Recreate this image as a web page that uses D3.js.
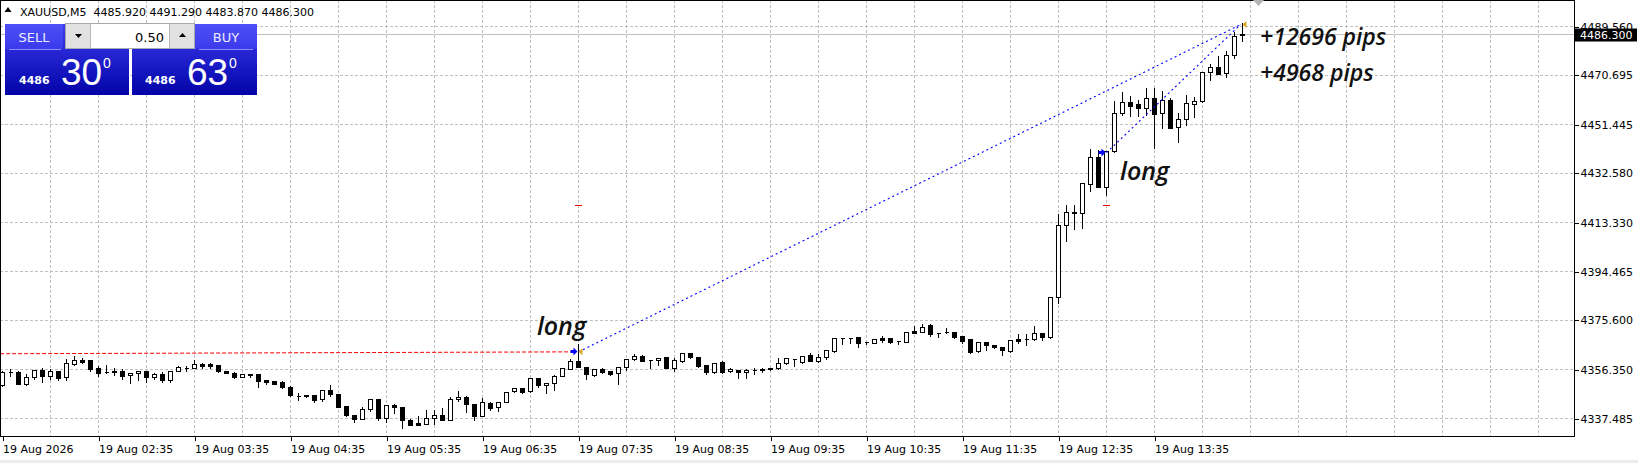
<!DOCTYPE html>
<html>
<head>
<meta charset="utf-8">
<script src="https://cdn.jsdelivr.net/npm/d3@7"></script>
<style>
  html, body { margin: 0; padding: 0; background: #fff; overflow: hidden; }
  svg { display: block; }
</style>
</head>
<body>
<div id="chart"></div>
<script>
const symbolName = 'XAUUSD,M5';
const headerPrices = ['4485.920', '4491.290', '4483.870', '4486.300'];
const timeLabels = ['19 Aug 2026', '19 Aug 02:35', '19 Aug 03:35', '19 Aug 04:35', '19 Aug 05:35', '19 Aug 06:35',
  '19 Aug 07:35', '19 Aug 08:35', '19 Aug 09:35', '19 Aug 10:35', '19 Aug 11:35', '19 Aug 12:35', '19 Aug 13:35'];
const priceTicks = [4337.485, 4356.350, 4375.600, 4394.465, 4413.330, 4432.580, 4451.445, 4470.695, 4489.560];

// one M5 bar per entry, first bar = 01:35
const opens = [
  4350.2, 4355.4, 4355.2, 4350.8, 4353.2, 4356.3, 4353.7, 4355.7, 4353.4, 4358.6,
  4360.0, 4360.0, 4356.8, 4355.3, 4355.8, 4355.7, 4354.0, 4354.9, 4355.7, 4353.5,
  4354.5, 4352.1, 4355.6, 4356.8, 4356.8, 4358.4, 4358.5, 4358.0, 4355.8, 4355.0,
  4353.4, 4354.4, 4354.5, 4352.1, 4351.8, 4351.5, 4349.7, 4346.2, 4346.6, 4346.5,
  4344.7, 4348.4, 4346.8, 4342.1, 4338.7, 4337.0, 4340.9, 4344.9, 4337.6, 4342.5,
  4341.6, 4336.6, 4335.5, 4335.3, 4337.4, 4338.5, 4336.7, 4344.9, 4345.7, 4342.9,
  4338.2, 4343.3, 4341.6, 4343.8, 4347.9, 4349.0, 4347.9, 4352.9, 4350.1, 4350.9,
  4353.9, 4356.5, 4359.6, 4357.4, 4354.2, 4356.4, 4355.7, 4354.8, 4357.1, 4360.5,
  4361.5, 4360.0, 4359.9, 4361.0, 4356.8, 4359.6, 4362.6, 4361.3, 4358.0, 4355.5,
  4359.3, 4355.6, 4356.1, 4355.2, 4356.3, 4356.4, 4356.6, 4356.7, 4358.7, 4360.3,
  4359.3, 4361.9, 4359.7, 4361.3, 4363.6, 4368.4, 4368.6, 4368.8, 4366.9, 4366.7,
  4368.4, 4368.4, 4367.3, 4367.1, 4371.2, 4371.0, 4373.6, 4370.6, 4370.7, 4370.7,
  4369.3, 4368.0, 4363.5, 4367.1, 4365.8, 4364.9, 4363.6, 4368.3, 4368.0, 4368.0,
  4370.3, 4369.0, 4384.3, 4412.5, 4417.2, 4416.9, 4428.3, 4438.6, 4427.2, 4441.2,
  4455.9, 4459.9, 4459.2, 4457.9, 4461.5, 4455.7, 4460.9, 4450.2, 4453.3, 4459.2,
  4460.3, 4471.6, 4473.5, 4471.5, 4478.2, 4485.92
];
const highs = [
  4356.0, 4356.7, 4356.1, 4354.8, 4356.4, 4357.4, 4356.7, 4356.1, 4360.7, 4362.0,
  4361.1, 4360.3, 4358.1, 4358.4, 4357.4, 4356.7, 4354.9, 4356.1, 4356.1, 4355.4,
  4355.8, 4356.1, 4358.1, 4358.1, 4360.3, 4359.1, 4359.1, 4358.3, 4356.3, 4355.7,
  4354.8, 4355.0, 4354.8, 4352.8, 4351.8, 4352.1, 4350.2, 4347.5, 4346.6, 4346.5,
  4348.8, 4350.5, 4347.1, 4342.4, 4339.2, 4342.2, 4345.1, 4345.1, 4342.5, 4343.3,
  4341.6, 4337.6, 4338.5, 4340.9, 4340.8, 4341.6, 4346.2, 4348.2, 4346.5, 4343.2,
  4345.5, 4343.9, 4343.8, 4347.7, 4349.6, 4349.6, 4353.3, 4353.3, 4351.2, 4354.4,
  4357.1, 4360.9, 4366.7, 4357.6, 4357.0, 4357.1, 4356.1, 4357.6, 4360.9, 4362.8,
  4362.3, 4360.3, 4360.9, 4361.3, 4361.3, 4363.2, 4363.2, 4361.7, 4358.3, 4359.3,
  4360.0, 4357.1, 4356.4, 4356.7, 4357.1, 4357.4, 4356.9, 4361.0, 4360.9, 4360.6,
  4361.9, 4363.2, 4362.8, 4364.1, 4368.8, 4368.6, 4369.0, 4369.0, 4367.3, 4368.3,
  4369.5, 4368.8, 4367.7, 4371.0, 4373.6, 4374.2, 4374.2, 4371.0, 4372.9, 4371.4,
  4369.7, 4368.4, 4367.3, 4367.3, 4366.1, 4365.2, 4368.0, 4370.3, 4370.3, 4373.6,
  4371.0, 4384.8, 4416.9, 4420.5, 4420.5, 4428.8, 4442.1, 4441.7, 4441.5, 4460.9,
  4464.3, 4462.8, 4461.2, 4466.0, 4465.8, 4464.7, 4462.1, 4456.3, 4463.0, 4462.4,
  4472.0, 4475.1, 4478.3, 4480.3, 4487.6, 4491.29
];
const lows = [
  4349.8, 4353.7, 4350.8, 4350.4, 4352.8, 4351.5, 4352.8, 4352.4, 4352.1, 4358.1,
  4359.0, 4355.7, 4353.8, 4354.8, 4354.1, 4352.8, 4351.1, 4352.1, 4351.5, 4352.8,
  4351.5, 4351.5, 4355.6, 4355.8, 4356.7, 4357.0, 4356.8, 4355.3, 4354.8, 4353.0,
  4353.2, 4353.2, 4349.5, 4350.8, 4350.5, 4349.2, 4346.2, 4344.6, 4345.5, 4343.6,
  4344.2, 4345.9, 4341.8, 4338.3, 4336.0, 4337.0, 4340.3, 4336.6, 4336.0, 4339.6,
  4333.7, 4334.6, 4334.6, 4335.0, 4335.0, 4336.7, 4336.6, 4344.2, 4339.9, 4336.6,
  4338.2, 4340.5, 4340.3, 4343.8, 4347.7, 4347.3, 4347.7, 4349.6, 4347.3, 4348.3,
  4353.9, 4356.5, 4357.1, 4352.6, 4353.9, 4354.8, 4354.2, 4350.7, 4356.1, 4360.0,
  4359.7, 4356.8, 4358.0, 4356.8, 4355.8, 4359.3, 4360.6, 4357.4, 4354.5, 4354.8,
  4354.8, 4355.3, 4353.1, 4353.1, 4354.5, 4355.4, 4356.1, 4356.4, 4358.3, 4357.8,
  4358.9, 4359.7, 4359.3, 4360.4, 4363.2, 4366.2, 4366.4, 4365.2, 4366.2, 4366.4,
  4366.9, 4366.7, 4366.1, 4367.1, 4370.3, 4370.7, 4369.4, 4368.8, 4370.3, 4368.4,
  4366.4, 4362.8, 4363.2, 4363.9, 4364.5, 4362.0, 4363.2, 4366.5, 4365.8, 4367.7,
  4367.7, 4368.4, 4382.2, 4406.3, 4410.7, 4411.1, 4425.7, 4427.0, 4424.0, 4440.8,
  4455.2, 4454.8, 4454.8, 4455.0, 4442.1, 4449.9, 4449.9, 4444.7, 4451.2, 4454.4,
  4460.0, 4468.6, 4471.0, 4469.9, 4477.0, 4483.87
];
const closes = [
  4355.4, 4355.4, 4350.8, 4353.2, 4356.3, 4353.7, 4355.7, 4353.0, 4358.7, 4359.9,
  4359.3, 4356.5, 4355.0, 4355.2, 4355.3, 4353.8, 4354.8, 4355.7, 4353.5, 4354.5,
  4352.1, 4355.7, 4357.3, 4356.9, 4358.5, 4357.8, 4357.7, 4355.6, 4354.9, 4353.4,
  4354.5, 4354.3, 4351.9, 4351.6, 4350.8, 4349.5, 4346.5, 4346.1, 4345.9, 4344.5,
  4348.4, 4346.8, 4341.8, 4338.5, 4337.0, 4340.9, 4344.9, 4337.6, 4342.5, 4341.6,
  4336.6, 4334.9, 4334.9, 4337.4, 4338.5, 4336.7, 4344.9, 4345.7, 4342.9, 4338.2,
  4343.8, 4341.2, 4343.8, 4347.6, 4349.2, 4347.7, 4352.9, 4350.3, 4350.9, 4353.9,
  4356.8, 4359.6, 4357.4, 4354.5, 4356.5, 4355.2, 4354.5, 4357.1, 4360.5, 4361.5,
  4359.7, 4360.0, 4360.9, 4356.8, 4360.0, 4362.6, 4361.3, 4357.7, 4355.5, 4358.9,
  4355.5, 4356.5, 4355.2, 4356.1, 4356.2, 4356.3, 4356.7, 4358.7, 4360.6, 4360.4,
  4361.7, 4359.7, 4361.3, 4363.9, 4368.4, 4368.4, 4368.7, 4366.7, 4366.9, 4368.0,
  4367.7, 4367.1, 4367.2, 4370.7, 4370.6, 4372.9, 4370.1, 4370.5, 4370.8, 4369.0,
  4367.5, 4363.2, 4367.1, 4365.8, 4364.9, 4363.8, 4367.7, 4367.5, 4368.1, 4370.3,
  4369.0, 4384.3, 4412.2, 4417.3, 4417.3, 4428.5, 4438.6, 4427.2, 4441.2, 4455.7,
  4459.9, 4458.6, 4457.9, 4461.5, 4455.6, 4460.9, 4449.9, 4453.3, 4459.6, 4460.5,
  4471.7, 4473.5, 4471.1, 4478.3, 4485.7, 4486.30
];

const bidPrice = 4486.300;
const askPrice = 4486.630;
const lotSize = '0.50';

// closed buy trades: entry bar / price, shared close
const entryBars = [72, 138];
const entryPrices = [4363.34, 4440.62];
const exitBar = 155;
const exitPrice = 4490.30;
const stopPrices = [4420.10, 4420.10];
// earlier sell closed at the first entry (starts left of the window)
const sellLineBars = [-0.3, 72];
const sellLinePrices = [4362.6, 4363.34];

// text objects anchored by bar / price
const noteTexts = ['long', 'long'];
const noteBars = [66.8, 139.7];
const notePrices = [4369.9, 4430.0];
const pipsTexts = ['+12696 pips', '+4968 pips'];
const pipsBars = [157.2, 157.2];
const pipsPrices = [4482.4, 4468.4];

class CandleChart {
  constructor(container) {
    this.width = 1638;
    this.height = 463;
    this.plotRight = 1574;
    this.plotBottom = 437;
    this.svg = container.append('svg')
      .attr('width', this.width)
      .attr('height', this.height);

    this.x = d3.scaleLinear().domain([0, 155]).range([2.5, 1242.5]);
    this.y = d3.scaleLinear().domain([4337.485, 4489.56]).range([418.5, 26.5]);

    this.bars = opens.map((o, i) => ({ i: i, o: o, h: highs[i], l: lows[i], c: closes[i] }));
  }

  px(v) {
    return Math.round(v - 0.5) + 0.5;
  }

  drawGrid() {
    let g = this.svg.append('g').attr('shape-rendering', 'crispEdges');
    let gridBars = d3.range(6, 200, 6).filter(b => this.x(b) < this.plotRight);

    g.selectAll('line.v').data(gridBars).join('line')
      .attr('x1', d => this.px(this.x(d))).attr('x2', d => this.px(this.x(d)))
      .attr('y1', 0).attr('y2', this.plotBottom)
      .attr('stroke', '#c0c0c0').attr('stroke-dasharray', '3,2');

    g.selectAll('line.h').data(priceTicks).join('line')
      .attr('x1', 0).attr('x2', this.plotRight)
      .attr('y1', d => this.px(this.y(d))).attr('y2', d => this.px(this.y(d)))
      .attr('stroke', '#c0c0c0').attr('stroke-dasharray', '3,2');

    // bid line
    g.append('line')
      .attr('x1', 0).attr('x2', this.plotRight)
      .attr('y1', this.px(this.y(bidPrice))).attr('y2', this.px(this.y(bidPrice)))
      .attr('stroke', '#c0c0c0');
  }

  drawAxes() {
    let yAxis = d3.axisRight(this.y)
      .tickValues(priceTicks)
      .tickFormat(d3.format('.3f'))
      .tickSize(4)
      .tickPadding(2);
    let ya = this.svg.append('g')
      .attr('transform', `translate(${this.plotRight + 0.5},0)`)
      .call(yAxis);

    let xAxis = d3.axisBottom(this.x)
      .tickValues(d3.range(0, 156, 12))
      .tickFormat((d, i) => timeLabels[i])
      .tickSize(4)
      .tickPadding(5);
    let xa = this.svg.append('g')
      .attr('transform', `translate(0,${this.plotBottom - 0.5})`)
      .call(xAxis);
    xa.selectAll('text').attr('text-anchor', 'start');

    [ya, xa].forEach(a => {
      a.select('.domain').remove();
      a.attr('font-family', '"DejaVu Sans", sans-serif').attr('font-size', 11);
      a.selectAll('text').attr('fill', '#000');
      a.selectAll('line').attr('stroke', '#000').attr('shape-rendering', 'crispEdges');
    });

    // frame
    this.svg.append('path')
      .attr('d', `M0.5,${this.plotBottom - 0.5} V0.5 H${this.plotRight + 0.5} V${this.plotBottom - 0.5} Z`)
      .attr('fill', 'none').attr('stroke', '#000').attr('shape-rendering', 'crispEdges');

    // current bid label (covers the top tick label, as in the terminal)
    let by = this.px(this.y(bidPrice));
    this.svg.append('rect')
      .attr('x', this.plotRight + 1).attr('y', by - 6)
      .attr('width', 62).attr('height', 13)
      .attr('fill', '#000');
    this.svg.append('text')
      .attr('x', this.plotRight + 6).attr('y', by + 4.5)
      .attr('font-family', '"DejaVu Sans", sans-serif').attr('font-size', 11)
      .attr('fill', '#fff')
      .text(d3.format('.3f')(bidPrice));

    // chart shift marker
    this.svg.append('path')
      .attr('d', 'M1253,0 L1264,0 L1258.5,6 Z')
      .attr('fill', '#b4b4b4');

    // window bottom edge
    this.svg.append('rect')
      .attr('x', 0).attr('y', 460).attr('width', this.width).attr('height', 3)
      .attr('fill', '#ececec');
  }

  drawCandles() {
    let g = this.svg.append('g').attr('shape-rendering', 'crispEdges');
    g.selectAll('line').data(this.bars).join('line')
      .attr('x1', d => this.px(this.x(d.i))).attr('x2', d => this.px(this.x(d.i)))
      .attr('y1', d => this.px(this.y(d.h))).attr('y2', d => this.px(this.y(d.l)))
      .attr('stroke', '#000');

    g.selectAll('path').data(this.bars).join('path')
      .attr('d', d => {
        let cx = this.px(this.x(d.i));
        let top = this.px(this.y(Math.max(d.o, d.c)));
        let bot = this.px(this.y(Math.min(d.o, d.c)));
        return `M${cx - 2},${top} H${cx + 2} V${bot} H${cx - 2} Z`;
      })
      .attr('fill', d => d.c >= d.o ? '#fff' : '#000')
      .attr('stroke', '#000');
  }

  drawTrades() {
    let g = this.svg.append('g');

    g.append('line')
      .attr('x1', this.x(sellLineBars[0])).attr('y1', this.y(sellLinePrices[0]))
      .attr('x2', this.x(sellLineBars[1]) - 4).attr('y2', this.y(sellLinePrices[1]))
      .attr('stroke', '#ff0000').attr('stroke-dasharray', '4,2');

    g.selectAll('line.trade').data(entryBars).join('line')
      .attr('x1', (d, i) => this.x(d)).attr('y1', (d, i) => this.y(entryPrices[i]))
      .attr('x2', this.x(exitBar) - 2).attr('y2', this.y(exitPrice))
      .attr('stroke', '#0000ff').attr('stroke-width', 1.1).attr('stroke-dasharray', '2,3');

    // stop loss marks
    g.selectAll('line.sl').data(entryBars).join('line')
      .attr('x1', d => this.px(this.x(d)) - 3.5).attr('x2', d => this.px(this.x(d)) + 3.5)
      .attr('y1', (d, i) => this.px(this.y(stopPrices[i]))).attr('y2', (d, i) => this.px(this.y(stopPrices[i])))
      .attr('stroke', '#ff0000').attr('shape-rendering', 'crispEdges');

    // buy arrows
    g.selectAll('path.buy').data(entryBars).join('path')
      .attr('d', (d, i) => {
        let cx = this.px(this.x(d)) - 1;
        let cy = this.px(this.y(entryPrices[i]));
        return `M${cx - 7},${cy - 1.5} H${cx - 4} V${cy - 4} L${cx},${cy} L${cx - 4},${cy + 4} V${cy + 1.5} H${cx - 7} Z`;
      })
      .attr('fill', '#0000ff');

    // close markers
    let closeMarks = [{ b: entryBars[0], p: entryPrices[0] }, { b: exitBar, p: exitPrice }];
    g.selectAll('path.close').data(closeMarks).join('path')
      .attr('d', d => {
        let cx = this.px(this.x(d.b));
        let cy = this.y(d.p);
        return `M${cx},${cy} L${cx + 4},${cy - 3.5} L${cx + 4},${cy + 3.5} Z`;
      })
      .attr('fill', '#daa520');
  }

  drawNotes() {
    let g = this.svg.append('g')
      .attr('font-family', '"Open Sans", sans-serif')
      .attr('font-style', 'italic')
      .attr('fill', '#111');

    g.selectAll('text.note').data(noteTexts).join('text')
      .attr('x', (d, i) => this.x(noteBars[i]))
      .attr('y', (d, i) => this.y(notePrices[i]))
      .attr('font-size', 25)
      .attr('font-weight', 600)
      .text(d => d);

    g.selectAll('text.pips').data(pipsTexts).join('text')
      .attr('x', (d, i) => this.x(pipsBars[i]))
      .attr('y', (d, i) => this.y(pipsPrices[i]))
      .attr('font-size', 23)
      .attr('font-weight', 600)
      .text(d => d);
  }

  drawHeader() {
    let g = this.svg.append('g')
      .attr('font-family', '"DejaVu Sans", sans-serif')
      .attr('font-size', 11)
      .attr('fill', '#000');
    g.append('path').attr('d', 'M4.5,12 L8,7 L11.5,12 Z').attr('fill', '#000');
    g.append('text')
      .attr('x', 20).attr('y', 16)
      .attr('xml:space', 'preserve')
      .text(symbolName + '  ' + headerPrices.join(' '));
  }

  drawPanel() {
    let defs = this.svg.append('defs');
    let big = defs.append('linearGradient').attr('id', 'bigBox').attr('x1', 0).attr('x2', 0).attr('y1', 0).attr('y2', 1);
    big.append('stop').attr('offset', 0).attr('stop-color', '#3c3cf0');
    big.append('stop').attr('offset', 1).attr('stop-color', '#0303a8');
    let btn = defs.append('linearGradient').attr('id', 'btnBox').attr('x1', 0).attr('x2', 0).attr('y1', 0).attr('y2', 1);
    btn.append('stop').attr('offset', 0).attr('stop-color', '#5050f6');
    btn.append('stop').attr('offset', 1).attr('stop-color', '#3a3aec');

    let g = this.svg.append('g').attr('shape-rendering', 'crispEdges');

    // price boxes
    g.append('rect').attr('x', 5).attr('y', 24).attr('width', 124).attr('height', 71).attr('fill', 'url(#bigBox)');
    g.append('rect').attr('x', 132).attr('y', 24).attr('width', 125).attr('height', 71).attr('fill', 'url(#bigBox)');
    g.append('rect').attr('x', 5).attr('y', 24).attr('width', 58).attr('height', 25).attr('fill', 'url(#btnBox)');
    g.append('rect').attr('x', 195).attr('y', 24).attr('width', 62).attr('height', 25).attr('fill', 'url(#btnBox)');
    g.append('line').attr('x1', 9).attr('x2', 61).attr('y1', 49.5).attr('y2', 49.5).attr('stroke', '#8c8cff');
    g.append('line').attr('x1', 199).attr('x2', 253).attr('y1', 49.5).attr('y2', 49.5).attr('stroke', '#8c8cff');

    // lot control
    g.append('rect').attr('x', 65.5).attr('y', 23.5).attr('width', 129).attr('height', 25)
      .attr('fill', '#fff').attr('stroke', '#a8a8a8');
    g.append('rect').attr('x', 66).attr('y', 24).attr('width', 24).attr('height', 24).attr('fill', '#e1e1e1');
    g.append('rect').attr('x', 170).attr('y', 24).attr('width', 24).attr('height', 24).attr('fill', '#e1e1e1');
    g.append('line').attr('x1', 90.5).attr('x2', 90.5).attr('y1', 24).attr('y2', 48).attr('stroke', '#b8b8b8');
    g.append('line').attr('x1', 169.5).attr('x2', 169.5).attr('y1', 24).attr('y2', 48).attr('stroke', '#b8b8b8');
    g.append('path').attr('d', 'M75,34 L82,34 L78.5,38 Z').attr('fill', '#000').attr('shape-rendering', 'auto');
    g.append('path').attr('d', 'M179,37 L186,37 L182.5,33 Z')
      .attr('fill', '#000').attr('shape-rendering', 'auto');

    let t = this.svg.append('g').attr('fill', '#fff');
    t.append('text').attr('x', 34).attr('y', 42).attr('text-anchor', 'middle')
      .attr('font-family', '"DejaVu Sans", sans-serif').attr('font-size', 13).attr('fill', '#ececff').text('SELL');
    t.append('text').attr('x', 226).attr('y', 42).attr('text-anchor', 'middle')
      .attr('font-family', '"DejaVu Sans", sans-serif').attr('font-size', 13).attr('fill', '#ececff').text('BUY');
    t.append('text').attr('x', 164).attr('y', 42).attr('text-anchor', 'end')
      .attr('font-family', '"DejaVu Sans", sans-serif').attr('font-size', 13).attr('fill', '#000').text(lotSize);

    [[bidPrice, 19, 61, 103], [askPrice, 145, 187, 229]].forEach(([p, x0, x1, x2]) => {
      let s = p.toFixed(3);
      t.append('text').attr('x', x0).attr('y', 83.5)
        .attr('font-family', '"DejaVu Sans", sans-serif').attr('font-weight', 'bold').attr('font-size', 11)
        .text(s.slice(0, 4));
      t.append('text').attr('x', x1).attr('y', 85)
        .attr('font-family', '"Liberation Sans", sans-serif').attr('font-size', 37)
        .text(s.slice(5, 7));
      t.append('text').attr('x', x2).attr('y', 68)
        .attr('font-family', '"Liberation Sans", sans-serif').attr('font-size', 14)
        .text(s.slice(7));
    });
  }

  render() {
    this.drawGrid();
    this.drawCandles();
    this.drawTrades();
    this.drawAxes();
    this.drawNotes();
    this.drawHeader();
    this.drawPanel();
  }
}

const chart = new CandleChart(d3.select('#chart'));
chart.render();
</script>
</body>
</html>
